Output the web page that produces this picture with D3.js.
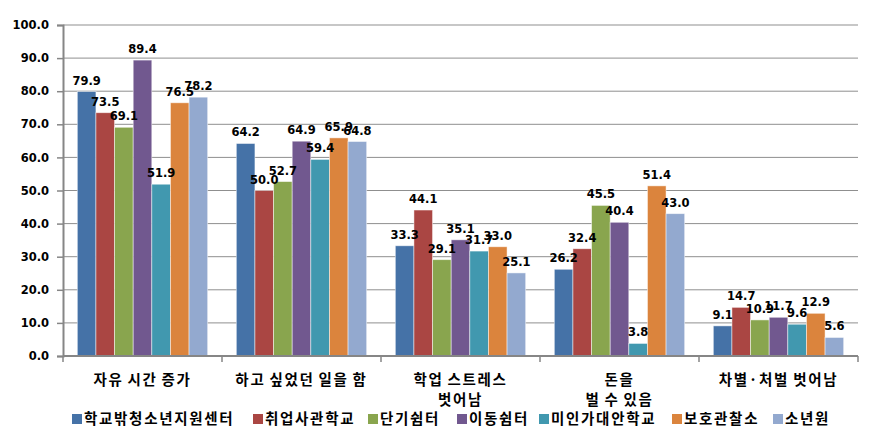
<!DOCTYPE html>
<html>
<head>
<meta charset="utf-8">
<script src="https://cdn.jsdelivr.net/npm/d3@7"></script>
<style>
  body { margin: 0; background: #fff; }
  svg { display: block; }
  .num { font-family: "DejaVu Sans", Verdana, sans-serif; font-weight: bold; font-size: 11.5px; fill: #000; }
  .kr { font-family: "Noto Sans CJK KR", sans-serif; font-weight: bold; font-size: 14.5px; letter-spacing: 1.7px; word-spacing: -1px; fill: #000; }
</style>
</head>
<body>
<svg width="888" height="434"></svg>
<script>
const categories = [["자유 시간 증가"], ["하고 싶었던 일을 함"], ["학업 스트레스", "벗어남"], ["돈을", "벌 수 있음"], ["차별·처벌 벗어남"]];
const seriesNames = ["학교밖청소년지원센터", "취업사관학교", "단기쉼터", "이동쉼터", "미인가대안학교", "보호관찰소", "소년원"];
const colors = ["#4572A7", "#AA4643", "#89A54E", "#71588F", "#4198AF", "#DB843D", "#93A9CF"];
const values = [
  [79.9, 64.2, 33.3, 26.2, 9.1],
  [73.5, 50.0, 44.1, 32.4, 14.7],
  [69.1, 52.7, 29.1, 45.5, 10.9],
  [89.4, 64.9, 35.1, 40.4, 11.7],
  [51.9, 59.4, 31.7, 3.8, 9.6],
  [76.5, 65.9, 33.0, 51.4, 12.9],
  [78.2, 64.8, 25.1, 43.0, 5.6]
];
const yTicks = [0, 10, 20, 30, 40, 50, 60, 70, 80, 90, 100];

const svg = d3.select("svg");
const margin = {top: 25, right: 30, bottom: 78, left: 63};
const width = +svg.attr("width") - margin.left - margin.right;
const height = +svg.attr("height") - margin.top - margin.bottom;
const g = svg.append("g").attr("transform", `translate(${margin.left},${margin.top})`);

const x0 = d3.scaleBand().domain(d3.range(categories.length)).range([0, width]);
const x1 = d3.scaleBand().domain(d3.range(seriesNames.length))
  .range([x0.bandwidth() * 0.09, x0.bandwidth() * 0.91]);
const y = d3.scaleLinear().domain([0, 100]).range([height, 0]);

// gridlines
g.selectAll("line.grid").data(yTicks.slice(1)).join("line")
  .attr("class", "grid")
  .attr("x1", 0).attr("x2", width)
  .attr("y1", d => y(d)).attr("y2", d => y(d))
  .attr("stroke", "#8f8f8f").attr("stroke-width", 1);

// bars
const groups = g.selectAll("g.cat").data(categories).join("g")
  .attr("class", "cat")
  .attr("transform", (d, i) => `translate(${x0(i)},0)`);

groups.each(function(c, ci) {
  const grp = d3.select(this);
  const rows = seriesNames.map((s, si) => ({si, v: values[si][ci]}));
  grp.selectAll("rect").data(rows).join("rect")
    .attr("x", d => x1(d.si))
    .attr("width", x1.bandwidth())
    .attr("y", d => y(d.v))
    .attr("height", d => y(0) - y(d.v))
    .attr("fill", d => colors[d.si])
    .attr("stroke", "#ffffff")
    .attr("stroke-opacity", 0.6)
    .attr("stroke-width", 0.8);
  grp.selectAll("text").data(rows).join("text")
    .attr("class", "num")
    .attr("x", d => x1(d.si) + x1.bandwidth() / 2)
    .attr("y", d => y(d.v) - 7)
    .attr("text-anchor", "middle")
    .text(d => d.v.toFixed(1));
});

// y axis
const yAxis = g.append("g")
  .call(d3.axisLeft(y).tickValues(yTicks).tickFormat(d => d.toFixed(1)).tickSize(6).tickPadding(8));
yAxis.select(".domain").attr("stroke", "#868686").attr("stroke-width", 2);
yAxis.selectAll(".tick line").attr("stroke", "#868686").attr("stroke-width", 1.5);
yAxis.selectAll(".tick text").attr("class", "num").attr("font-size", null).attr("font-family", null);

// x axis
const xAxisG = g.append("g").attr("transform", `translate(0,${height})`);
xAxisG.append("line").attr("x1", 0).attr("x2", width).attr("y1", 0).attr("y2", 0)
  .attr("stroke", "#868686").attr("stroke-width", 2);
xAxisG.selectAll("line.tk").data(d3.range(categories.length + 1)).join("line")
  .attr("class", "tk")
  .attr("x1", i => i * x0.step()).attr("x2", i => i * x0.step())
  .attr("y1", 0).attr("y2", 6)
  .attr("stroke", "#868686").attr("stroke-width", 1.5);
xAxisG.selectAll("text.cl").data(categories).join("text")
  .attr("class", "kr cl")
  .attr("text-anchor", "middle")
  .attr("x", (d, i) => x0(i) + x0.bandwidth() / 2)
  .attr("y", 29)
  .each(function(lines) {
    d3.select(this).selectAll("tspan").data(lines).join("tspan")
      .attr("x", d3.select(this).attr("x"))
      .attr("dy", (d, i) => i === 0 ? 0 : 20)
      .text(d => d);
  });

// legend
const legendX = [72, 253, 368, 457, 539, 672, 773];
const legend = svg.append("g").attr("transform", "translate(0,419)");
const li = legend.selectAll("g").data(seriesNames).join("g")
  .attr("transform", (d, i) => `translate(${legendX[i]},0)`);
li.append("rect").attr("x", 0).attr("y", -5).attr("width", 10).attr("height", 10)
  .attr("fill", (d, i) => colors[i]);
li.append("text").attr("class", "kr").attr("x", 12).attr("y", 5).text(d => d);
</script>
</body>
</html>
